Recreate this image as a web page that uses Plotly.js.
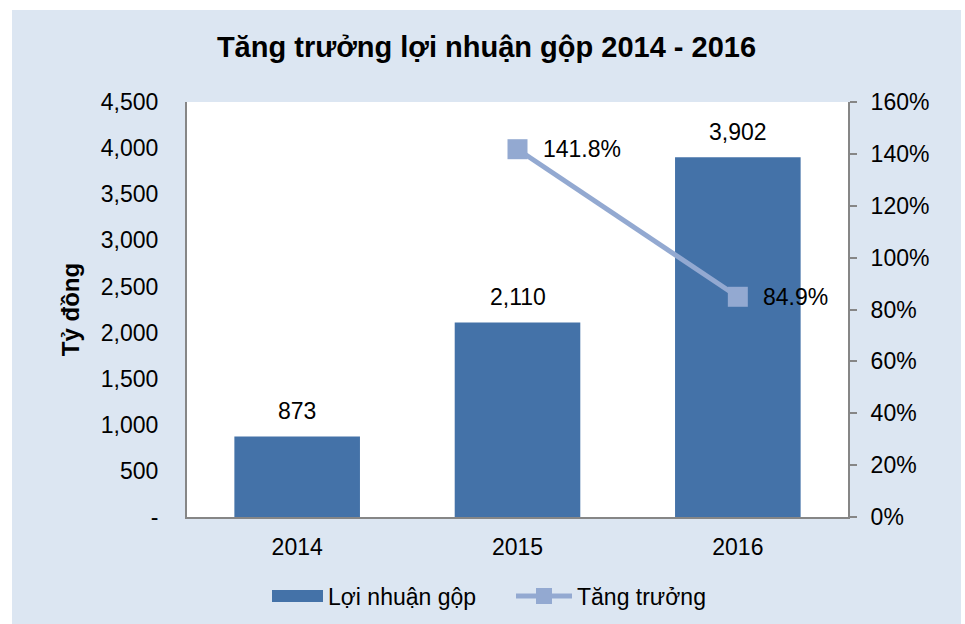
<!DOCTYPE html>
<html>
<head>
<meta charset="utf-8">
<script src="https://cdn.plot.ly/plotly-3.0.1.min.js"></script>
<style>
  html, body { margin: 0; padding: 0; background: #ffffff; }
  #wrap { position: absolute; left: 12px; top: 10px; width: 949px; height: 614px; }
  #chart { width: 949px; height: 614px; }
</style>
</head>
<body>
<div id="wrap"><div id="chart"></div></div>
<script>
const years = ['2014', '2015', '2016'];
const profit = [873, 2110, 3902];
const growthYears = ['2015', '2016'];
const growth = [141.8, 84.9];
const leftTickVals = [0, 500, 1000, 1500, 2000, 2500, 3000, 3500, 4000, 4500];
const leftTickText = ['-', '500', '1,000', '1,500', '2,000', '2,500', '3,000', '3,500', '4,000', '4,500'];
const rightTickVals = [0, 20, 40, 60, 80, 100, 120, 140, 160];
const rightTickText = ['0%', '20%', '40%', '60%', '80%', '100%', '120%', '140%', '160%'];

const FONT = '"Liberation Sans", Arial, sans-serif';
const BAR = '#4472a8';
const LINE = '#93a9d1';

const fmt = v => v.toLocaleString('en-US');

const traces = [
  {
    type: 'bar', name: 'Lợi nhuận gộp', x: years, y: profit,
    marker: { color: BAR }, width: 0.57,
    hoverinfo: 'skip'
  },
  {
    type: 'scatter', mode: 'lines+markers', name: 'Tăng trưởng',
    x: growthYears, y: growth, yaxis: 'y2',
    line: { color: LINE, width: 5 },
    marker: { symbol: 'square', size: 20, color: LINE },
    hoverinfo: 'skip'
  }
];

const barLabels = profit.map((v, i) => ({
  x: years.indexOf(years[i]), y: v, xref: 'x', yref: 'y',
  text: fmt(v), showarrow: false,
  yanchor: 'bottom', yshift: 10,
  font: { family: FONT, size: 23, color: '#000' }
}));
const lineLabels = growth.map((v, i) => ({
  x: years.indexOf(growthYears[i]), y: v, xref: 'x', yref: 'y2',
  text: v.toFixed(1) + '%', showarrow: false,
  xanchor: 'left', yanchor: 'middle', xshift: 23,
  font: { family: FONT, size: 23, color: '#000' }
}));

const layout = {
  width: 949, height: 614,
  paper_bgcolor: '#dce6f2', plot_bgcolor: '#ffffff',
  margin: { l: 175, r: 113, t: 92, b: 107 },
  font: { family: FONT, size: 23, color: '#000' },
  title: {
    text: '<b>Tăng trưởng lợi nhuận gộp 2014 - 2016</b>',
    font: { family: FONT, size: 29, color: '#000' },
    x: 0.5, xanchor: 'center', xref: 'container', y: 1 - 37 / 614, yref: 'container', yanchor: 'middle'
  },
  xaxis: {
    type: 'category', categoryorder: 'array', categoryarray: years,
    showline: true, linecolor: '#868686', linewidth: 2,
    ticks: '', showgrid: false, zeroline: false, ticklabelstandoff: 8,
    tickfont: { family: FONT, size: 23, color: '#000' }
  },
  yaxis: {
    range: [0, 4500], tickmode: 'array', tickvals: leftTickVals, ticktext: leftTickText,
    showline: true, linecolor: '#868686', linewidth: 2, ticks: '',
    showgrid: false, zeroline: false, ticklabelstandoff: 22,
    tickfont: { family: FONT, size: 23, color: '#000' },
    title: { text: '<b>Tỷ đồng</b>', font: { family: FONT, size: 24, color: '#000' }, standoff: 14 }
  },
  yaxis2: {
    overlaying: 'y', side: 'right', range: [0, 160], tickmode: 'array',
    tickvals: rightTickVals, ticktext: rightTickText,
    showline: true, linecolor: '#868686', linewidth: 2,
    ticks: 'outside', ticklen: 7, tickwidth: 2, tickcolor: '#868686',
    showgrid: false, zeroline: false, ticklabelstandoff: 9,
    tickfont: { family: FONT, size: 23, color: '#000' }
  },
  bargap: 0.43,
  showlegend: true,
  legend: {
    orientation: 'h', xref: 'container', x: (262 - 12) / 949, xanchor: 'left',
    yref: 'container', y: (624 - 596) / 614, yanchor: 'middle',
    itemwidth: 56, entrywidth: 178, entrywidthmode: 'pixels',
    font: { family: FONT, size: 23, color: '#000' }, bgcolor: 'rgba(0,0,0,0)'
  },
  annotations: barLabels.concat(lineLabels)
};

function widenBarSwatch() {
  // widen the bar legend swatch to match the reference's wide rectangle
  const groups = document.querySelectorAll('#chart .legend .traces');
  if (!groups.length) return;
  const paths = groups[0].querySelectorAll('.legendpoints path');
  paths.forEach(p => p.setAttribute('d', 'M-23,6H28V-6H-23Z'));
}

const gdEl = document.getElementById('chart');
Plotly.newPlot(gdEl, traces, layout, { displayModeBar: false, staticPlot: true }).then(gd => {
  widenBarSwatch();
  gd.on && gd.on('plotly_afterplot', widenBarSwatch);
  setTimeout(widenBarSwatch, 50);
  setTimeout(widenBarSwatch, 300);
});
</script>
</body>
</html>
